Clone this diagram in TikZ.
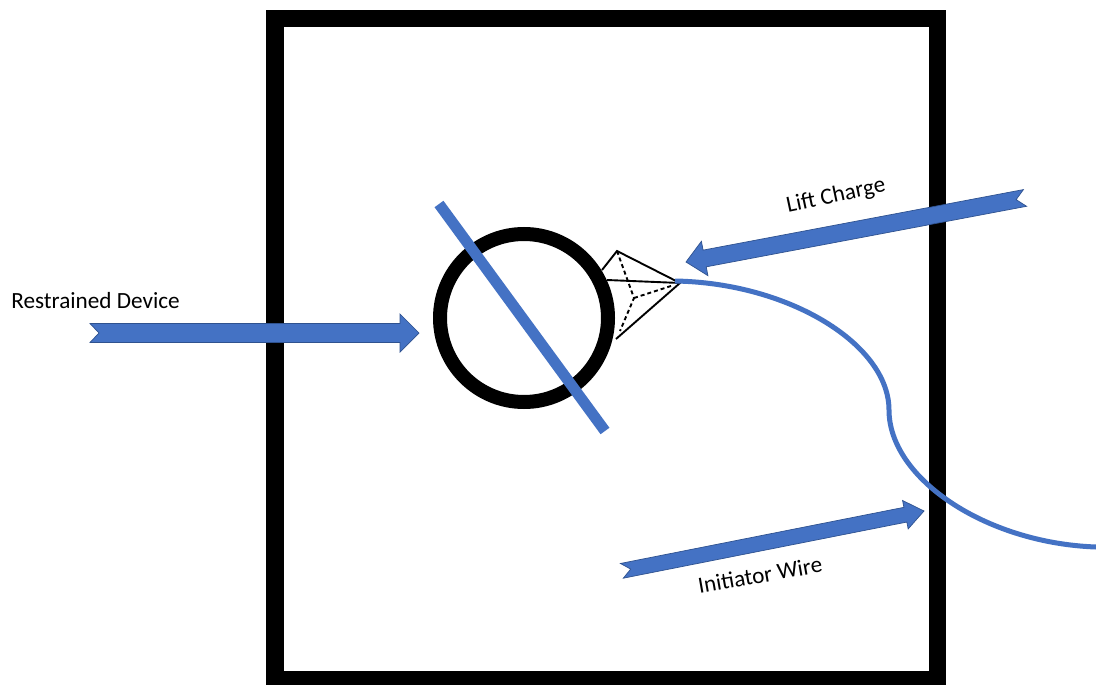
\documentclass[tikz,border=0pt]{standalone}
\usepackage{fontspec}
\setmainfont{Carlito}
\definecolor{officeblue}{HTML}{4472C4}
\definecolor{officeedge}{HTML}{2F528F}
\tikzset{
  blockarrow/.style={fill=officeblue,draw=officeedge,line width=0.7pt,line join=miter},
  bluebar/.style={draw=officeblue,line width=11pt},
  bluewire/.style={draw=officeblue,line width=5pt},
  tetra/.style={draw=black,line width=1.9pt,line join=miter},
  tetrahidden/.style={draw=black,line width=1.9pt,dash pattern=on 4pt off 3pt},
  labeltext/.style={font=\fontsize{23.2}{27}\selectfont,text=black,inner sep=0pt}
}
% tip x, tip y, angle, length, head half width, body half width
\newcommand{\notchedarrow}[6]{%
  \begin{scope}[shift={(#1,#2)},rotate=#3]
    \path[blockarrow] (0,0) -- (-19,#5) -- (-19,#6) -- (-#4,#6) -- (-#4+9,0) -- (-#4,-#6) -- (-19,-#6) -- (-19,-#5) -- cycle;
  \end{scope}}
\begin{document}
\begin{tikzpicture}[x=1pt,y=-1pt]
\useasboundingbox (0,0) rectangle (1096,685);
\fill[white] (0,0) rectangle (1096,685);
\draw[line width=17.5pt,line join=miter] (275,18.5) rectangle (937.5,680);
\coordinate (ringc) at (524,318);
\draw[line width=14pt] (ringc) circle[radius=84];
% lift charge cone
\coordinate (apex) at (680,283);
\coordinate (ctop) at (617,251);
\coordinate (cbot) at (616,339);
\coordinate (cleft) at (602,270);
\coordinate (cmid) at (607,280);
\coordinate (chid) at (634,298);
\draw[tetra] (cleft) -- (ctop) -- (apex) -- (cbot);
\draw[tetra] (cmid) -- (apex);
\draw[tetrahidden] (ctop) -- (chid) -- (620,331);
\draw[tetrahidden] (chid) -- (671,286);
% bar through ring
\coordinate (bara) at (439,204);
\coordinate (barb) at (605,431);
\draw[bluebar] (bara) -- (barb);
% wire
\coordinate (wirea) at (675,281);
\coordinate (wireb) at (889,410);
\coordinate (wirec) at (1096,547);
\draw[bluewire] (wirea) .. controls (790,283) and (889,345) .. (wireb) .. controls (889,478) and (985,543) .. (wirec);
% arrows
\notchedarrow{419}{333}{0}{329}{19}{9.5}
\notchedarrow{686}{262}{190.7}{345}{17.5}{8.5}
\notchedarrow{924}{511}{11.2}{308}{14.5}{7.5}
% labels
\node[labeltext,anchor=center] (restrained) at (95.5,301) {Restrained Device};
\node[labeltext,anchor=center,rotate=12] (lift) at (836,196) {Lift Charge};
\node[labeltext,anchor=center,rotate=10] (initiator) at (760,575) {Initiator Wire};
\end{tikzpicture}
\end{document}
